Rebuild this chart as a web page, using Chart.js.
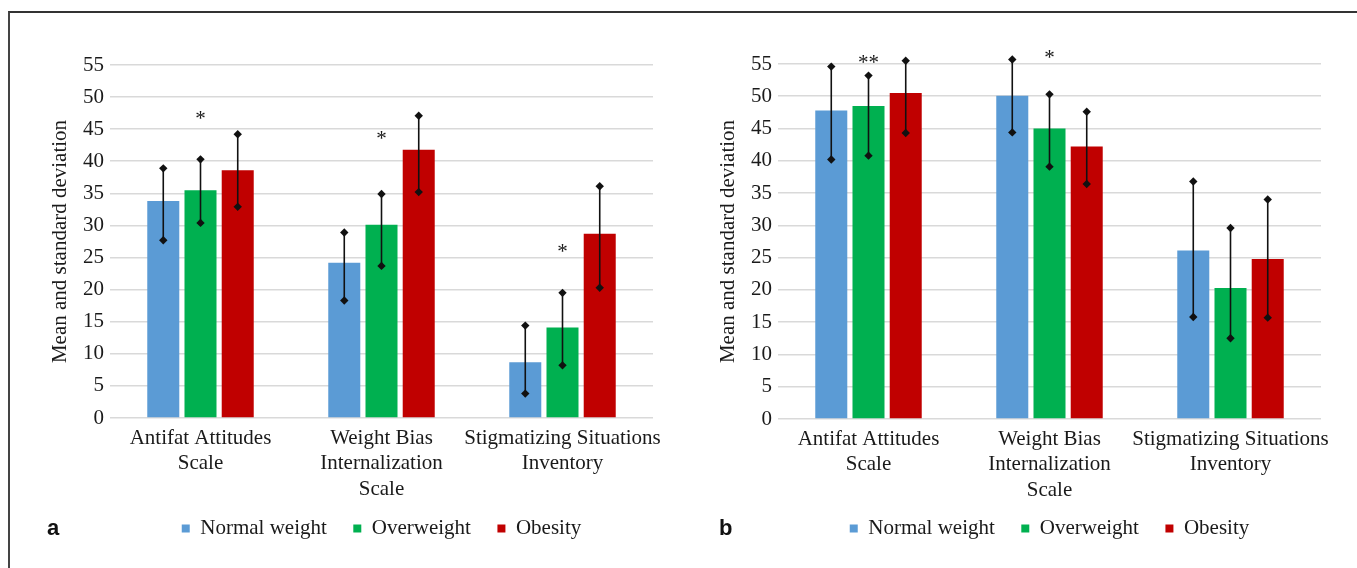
<!DOCTYPE html>
<html>
<head>
<meta charset="utf-8">
<script src="https://cdn.jsdelivr.net/npm/chart.js@4.4.1/dist/chart.umd.min.js"></script>
<style>
  html, body { margin: 0; padding: 0; background: #fff; }
  body { width: 1357px; height: 568px; position: relative; overflow: hidden; }
  .frame { position: absolute; left: 8px; top: 11px; width: 2000px; height: 2000px;
           border-left: 2px solid #444; border-top: 2px solid #333; }
  .panel { position: absolute; top: 0; height: 568px; }
  .tag { position: absolute; top: 515px; font: bold 22px "Liberation Sans", Arial, sans-serif; color: #111; }
</style>
</head>
<body>
<div class="frame"></div>
<div class="panel" id="pa" style="left:0;width:680px"><canvas id="chartA"></canvas></div>
<div class="panel" id="pb" style="left:668px;width:689px"><canvas id="chartB"></canvas></div>
<div class="tag" style="left:47px">a</div>
<div class="tag" style="left:719px">b</div>
<script>
const categories = [
  ["Antifat Attitudes", "Scale"],
  ["Weight Bias", "Internalization", "Scale"],
  ["Stigmatizing Situations", "Inventory"]
]
const seriesNames = ["Normal weight", "Overweight", "Obesity"]
const seriesColors = ["#5b9bd5", "#00b050", "#c00000"]
const yMin = 0
const yMax = 55
const yStep = 5

// panel a: means, then error bar ends (rows = normal, overweight, obesity)
const aNormal = [33.8, 24.2, 8.7]
const aOver = [35.5, 30.1, 14.1]
const aObese = [38.6, 41.8, 28.7]
const aHigh = [[38.9, 28.9, 14.4], [40.3, 34.9, 19.5], [44.2, 47.1, 36.1]]
const aLow = [[27.7, 18.3, 3.8], [30.4, 23.7, 8.2], [32.9, 35.2, 20.3]]
const aSigText = ["*", "*", "*"]
const aSigLevel = [47.3, 44.2, 26.7]

// panel b
const bNormal = [47.8, 50.1, 26.1]
const bOver = [48.5, 45.0, 20.3]
const bObese = [50.5, 42.2, 24.8]
const bHigh = [[54.6, 55.7, 36.8], [53.2, 50.3, 29.6], [55.5, 47.6, 34.0]]
const bLow = [[40.2, 44.4, 15.8], [40.8, 39.1, 12.5], [44.3, 36.4, 15.7]]
const bSigText = ["**", "*", ""]
const bSigLevel = [55.9, 56.7, null]

const serif = "'Liberation Serif', 'Times New Roman', serif"
const textColor = "#1a1a1a"

const errorBars = {
  id: "errorBars",
  afterDatasetsDraw(chart, args, opts) {
    const ctx = chart.ctx
    const y = chart.scales.y
    ctx.save()
    ctx.strokeStyle = "#111"
    ctx.fillStyle = "#111"
    ctx.lineWidth = 1.6
    chart.data.datasets.forEach((ds, i) => {
      const meta = chart.getDatasetMeta(i)
      meta.data.forEach((bar, j) => {
        const x = bar.x
        const top = y.getPixelForValue(opts.high[i][j])
        const bot = y.getPixelForValue(opts.low[i][j])
        ctx.beginPath()
        ctx.moveTo(x, top)
        ctx.lineTo(x, bot)
        ctx.stroke()
        for (const py of [top, bot]) {
          const r = 4.2
          ctx.beginPath()
          ctx.moveTo(x, py - r)
          ctx.lineTo(x + r, py)
          ctx.lineTo(x, py + r)
          ctx.lineTo(x - r, py)
          ctx.closePath()
          ctx.fill()
        }
      })
    })
    // significance marks above the overweight bars
    ctx.font = "21px " + serif
    ctx.textAlign = "center"
    ctx.textBaseline = "alphabetic"
    ctx.fillStyle = textColor
    const meta = chart.getDatasetMeta(1)
    opts.sigText.forEach((t, j) => {
      if (!t) return
      ctx.fillText(t, meta.data[j].x, y.getPixelForValue(opts.sigLevel[j]) + 11)
    })
    ctx.restore()
  }
}

function makeChart(id, series, high, low, sigText, sigLevel, pad, xHeight) {
  return new Chart(document.getElementById(id), {
    type: "bar",
    data: {
      labels: categories,
      datasets: series.map((vals, i) => ({
        label: seriesNames[i],
        data: vals,
        backgroundColor: seriesColors[i],
        borderWidth: 0,
        categoryPercentage: 0.617,
        barPercentage: 0.86
      }))
    },
    options: {
      responsive: true,
      maintainAspectRatio: false,
      animation: false,
      devicePixelRatio: 1,
      layout: { padding: pad },
      plugins: {
        tooltip: { enabled: false },
        legend: {
          position: "bottom",
          fullSize: false,
          labels: {
            boxWidth: 8,
            boxHeight: 8,
            padding: 16,
            color: textColor,
            font: { family: serif, size: 21 },
            generateLabels(chart) {
              const items = Chart.defaults.plugins.legend.labels.generateLabels(chart)
              // a little extra room between entries
              items.forEach((it, i) => { if (i < items.length - 1) it.text += "  " })
              return items
            }
          }
        },
        errorBars: { high, low, sigText, sigLevel }
      },
      scales: {
        x: {
          grid: { display: false },
          border: { display: false },
          ticks: {
            color: textColor,
            padding: 0,
            maxRotation: 0,
            autoSkip: false,
            font: { family: serif, size: 21, lineHeight: 1.2 }
          },
          afterFit(scale) { scale.height = xHeight }
        },
        y: {
          min: yMin,
          max: yMax,
          ticks: {
            stepSize: yStep,
            color: textColor,
            padding: 6,
            font: { family: serif, size: 21 }
          },
          grid: { color: "#d9d9d9", lineWidth: 1.6, drawTicks: false },
          border: { display: false },
          title: {
            display: true,
            text: "Mean and standard deviation",
            color: textColor,
            font: { family: serif, size: 21 }
          },
          afterFit(scale) { scale.width = 66 }
        }
      }
    },
    plugins: [errorBars]
  })
}

makeChart("chartA", [aNormal, aOver, aObese], aHigh, aLow, aSigText, aSigLevel,
  { left: 44, right: 27, top: 65, bottom: 19 }, 84)
makeChart("chartB", [bNormal, bOver, bObese], bHigh, bLow, bSigText, bSigLevel,
  { left: 44, right: 36, top: 64, bottom: 19 }, 83)
</script>
</body>
</html>
